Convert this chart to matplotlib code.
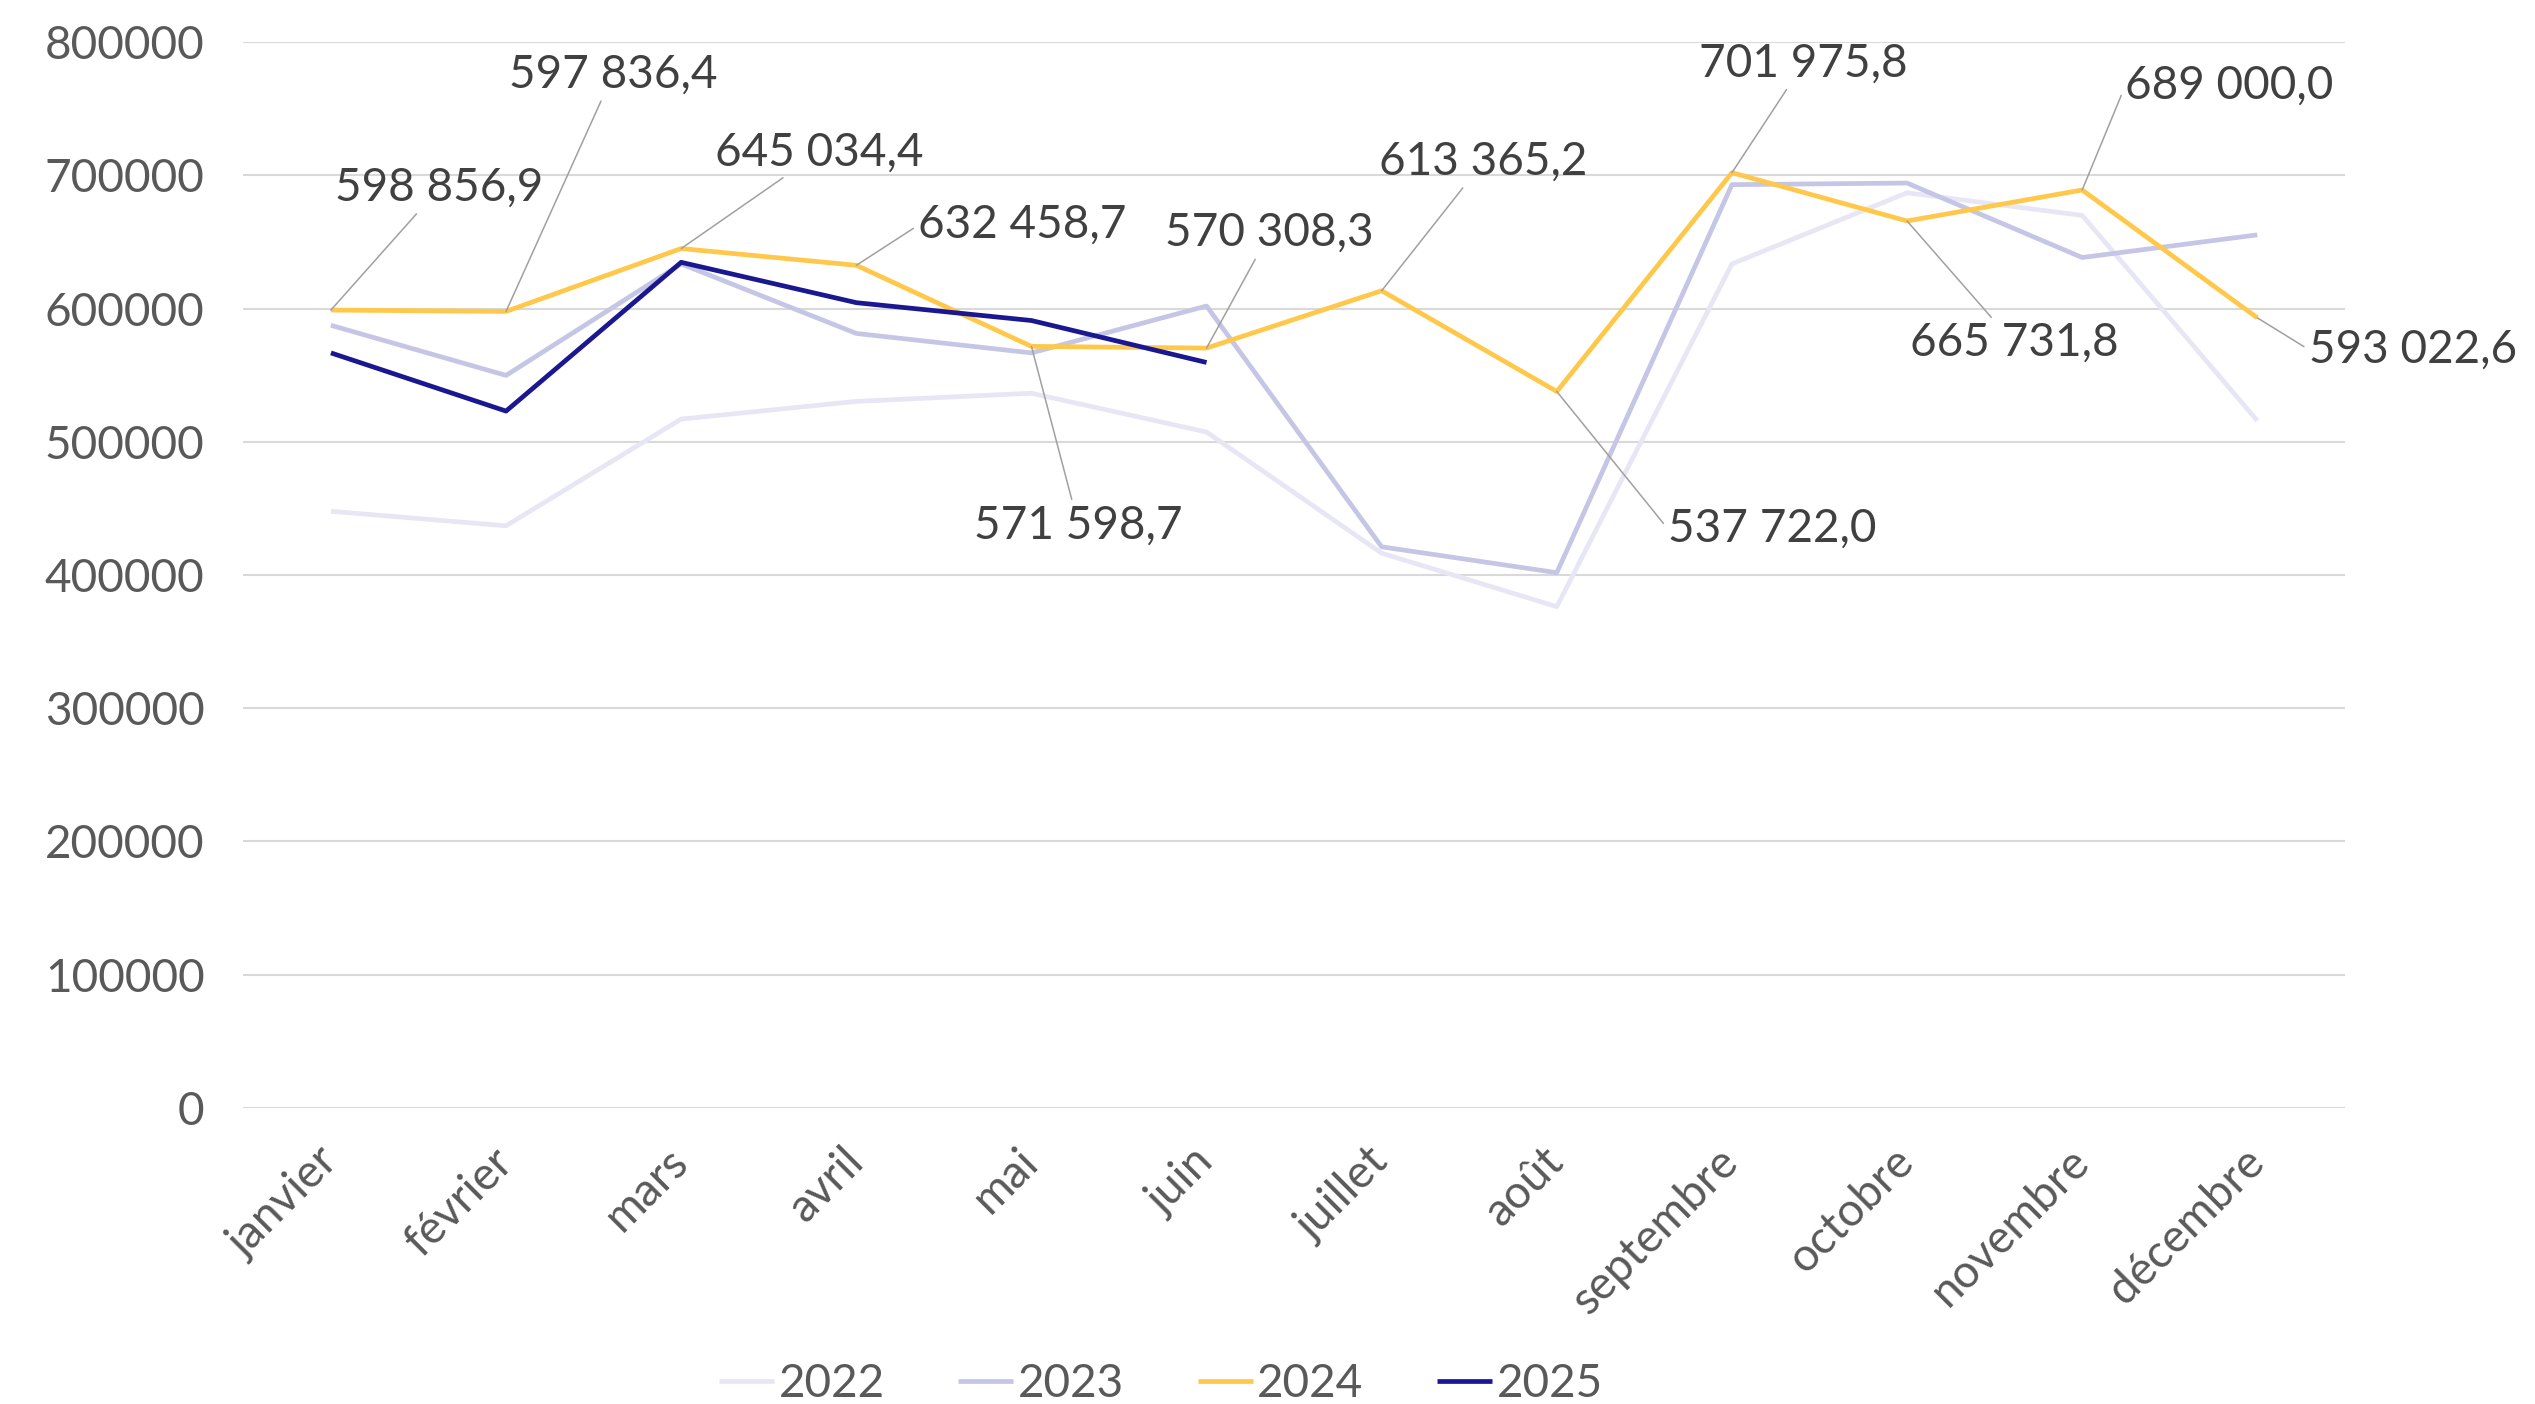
import matplotlib

matplotlib.use("Agg")
import matplotlib.pyplot as plt
import numpy as np

MONTHS = ["janvier", "février", "mars", "avril", "mai", "juin", "juillet",
          "août", "septembre", "octobre", "novembre", "décembre"]

V2022 = [447800, 436900, 517000, 530300, 536400, 507300, 416300, 376200,
         633500, 686900, 669900, 515800]
V2023 = [587400, 549800, 633500, 581300, 566700, 601900, 421100, 401700,
         693000, 694200, 638300, 655300]
V2024 = [598856.9, 597836.4, 645034.4, 632458.7, 571598.7, 570308.3,
         613365.2, 537722.0, 701975.8, 665731.8, 689000.0, 593022.6]
V2025 = [566700, 523000, 634700, 604400, 591000, 559500]

# label position (x in month index, y in value) for each 2024 data label
LABEL_POS = [(0.62, 690500), (1.61, 775500), (2.79, 717200), (3.95, 662600),
             (4.27, 436900), (5.36, 656600), (6.58, 710000), (8.23, 434500),
             (8.41, 784000), (9.61, 574000), (10.84, 767000), (11.89, 569000)]
ELBOW = {3, 7, 10, 11}

TXT = "#595959"
plt.rcParams["font.family"] = ["Lato", "DejaVu Sans"]


def fmt(v):
    s = f"{v:,.1f}"
    return s.replace(",", " ").replace(".", ",")


fig = plt.figure(figsize=(25.35, 14.04), dpi=100)
ax = fig.add_axes([0.096, 0.211, 0.829, 0.759])

x = np.arange(len(MONTHS))
lw = 3.4
ax.plot(x, V2022, color="#E7E6F4", lw=lw, label="2022", solid_capstyle="butt")
ax.plot(x, V2023, color="#C5C5E5", lw=lw, label="2023", solid_capstyle="butt")
ax.plot(x, V2024, color="#FFC84A", lw=lw, label="2024", solid_capstyle="butt")
ax.plot(x[:len(V2025)], V2025, color="#1A1790", lw=lw, label="2025",
        solid_capstyle="butt")

for i, (v, (lx, ly)) in enumerate(zip(V2024, LABEL_POS)):
    rel = (0.0, 0.5) if i in ELBOW else (0.5, 0.5)
    ax.annotate(fmt(v), xy=(i, v), xytext=(lx, ly), textcoords="data",
                ha="center", va="center", fontsize=33, color="#404040",
                arrowprops=dict(arrowstyle="-", color="#a0a0a0", lw=1.1,
                                shrinkA=2, shrinkB=0, relpos=rel))

ax.set_xlim(-0.5, 11.5)
ax.set_ylim(0, 800000)
ax.set_yticks(np.arange(0, 800001, 100000))
ax.set_yticklabels([f"{int(t)}" for t in np.arange(0, 800001, 100000)])
ax.set_xticks(x)
ax.set_xticklabels(MONTHS, rotation=45, ha="right", va="center",
                   rotation_mode="anchor")
ax.tick_params(axis="both", length=0, labelsize=33, labelcolor=TXT)
ax.tick_params(axis="y", pad=28)
ax.tick_params(axis="x", pad=34)
for s in ax.spines.values():
    s.set_visible(False)
ax.grid(True, axis="y", color="#d9d9d9", lw=1.5)
ax.set_axisbelow(True)

leg = fig.legend(loc="lower center", bbox_to_anchor=(0.458, -0.03), ncol=4,
                 frameon=False, fontsize=33, handlelength=1.2,
                 handletextpad=0.1, columnspacing=1.6)
for t in leg.get_texts():
    t.set_color(TXT)

fig.savefig("out.png", dpi=100)
